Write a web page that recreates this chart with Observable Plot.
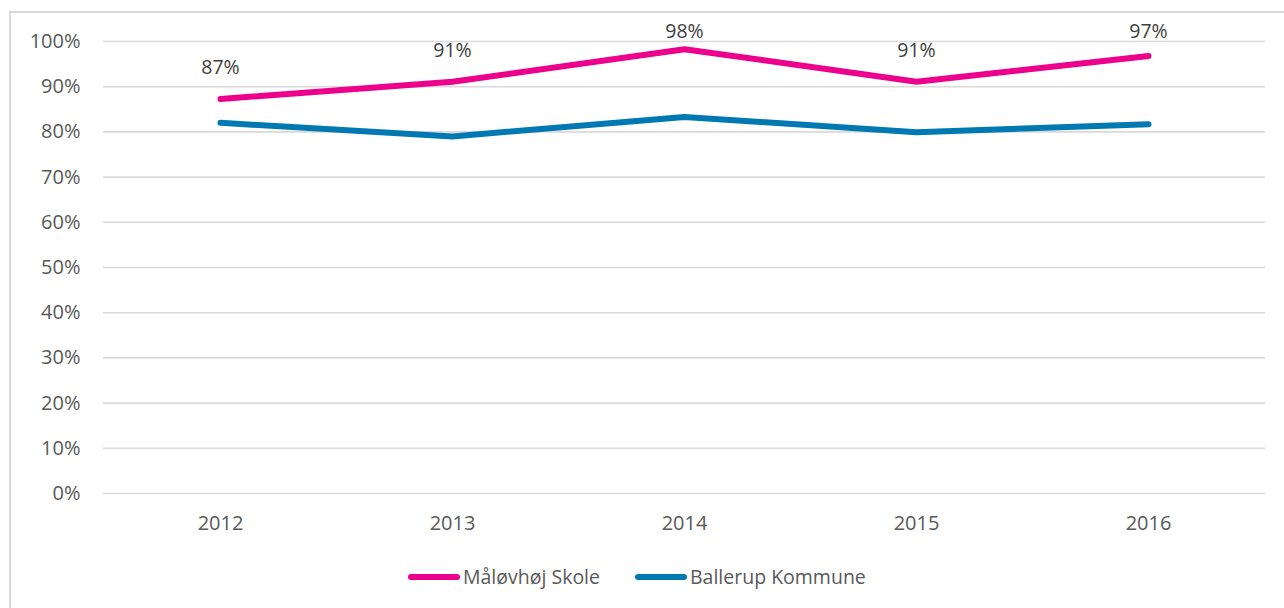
<!DOCTYPE html>
<html>
<head>
<meta charset="utf-8">
<script src="https://cdn.jsdelivr.net/npm/d3@7"></script>
<script src="https://cdn.jsdelivr.net/npm/@observablehq/plot@0.6"></script>
<style>
  html, body { margin: 0; padding: 0; background: #fff; overflow: hidden; }
  body { width: 1284px; height: 608px; position: relative; font-family: "Open Sans", sans-serif; }
  #frame { position: absolute; left: 9px; top: 11px; width: 1400px; height: 700px;
           border-left: 2px solid #D9D9D9; border-top: 2px solid #D9D9D9; box-sizing: border-box; }
  #chart { position: absolute; left: 0; top: 0; }
  #legend { position: absolute; left: 408px; top: 563px; display: flex; align-items: center;
            font-size: 19.5px; color: #595959; white-space: nowrap; }
  .item { display: flex; align-items: center; }
  .sw { width: 52px; height: 6px; border-radius: 3px; margin-right: 3px; }
  .gap { width: 35px; }
</style>
</head>
<body>
<div id="frame"></div>
<div id="chart"></div>
<div id="legend"></div>
<script>
// ---- data ----
const years = ["2012", "2013", "2014", "2015", "2016"];
const skoleValues = [87.3, 91.1, 98.3, 91.1, 96.8];
const kommuneValues = [82.0, 79.0, 83.3, 79.9, 81.7];
const skoleLabels = ["87%", "91%", "98%", "91%", "97%"];
const seriesNames = ["Måløvhøj Skole", "Ballerup Kommune"];
const seriesColors = ["#EC008C", "#0079B3"];
const yTicks = [0, 10, 20, 30, 40, 50, 60, 70, 80, 90, 100];

// ---- build table ----
const rows = [];
years.forEach((yr, i) => rows.push({ year: yr, value: skoleValues[i], series: seriesNames[0] }));
years.forEach((yr, i) => rows.push({ year: yr, value: kommuneValues[i], series: seriesNames[1] }));

// labels sit ~31px above the point, but never above the top of the plot area (Excel-like clamp)
const pxPerUnit = 4.52, labelOffsetPx = 31, labelCeiling = 102.06;
const labelRows = years.map((yr, i) => ({
  year: yr,
  y: Math.min(skoleValues[i] + labelOffsetPx / pxPerUnit, labelCeiling),
  text: skoleLabels[i]
}));

const chart = Plot.plot({
  width: 1284,
  height: 538,
  marginTop: 41,
  marginBottom: 45,
  marginLeft: 103,
  marginRight: 19,
  style: { fontFamily: "'Open Sans', sans-serif", fontSize: "20px", background: "transparent", overflow: "visible" },
  x: { type: "point", domain: years, padding: 0.5, label: null },
  y: { domain: [0, 100], label: null },
  color: { domain: seriesNames, range: seriesColors },
  marks: [
    Plot.gridY(yTicks, { stroke: "#D9D9D9", strokeOpacity: 1, strokeWidth: 1.6 }),
    Plot.axisY(yTicks, { tickSize: 0, tickPadding: 23, tickFormat: d => d + "%", fill: "#595959", label: null }),
    Plot.axisX({ tickSize: 0, tickPadding: 22, fill: "#595959", label: null }),
    Plot.line(rows, { x: "year", y: "value", z: "series", stroke: "series", strokeWidth: 6,
                      strokeLinecap: "round", strokeLinejoin: "round" }),
    Plot.text(labelRows, { x: "year", y: "y", text: "text", fill: "#404040", fontSize: 19.5 })
  ]
});
document.getElementById("chart").appendChild(chart);

// ---- legend ----
const legend = document.getElementById("legend");
seriesNames.forEach((name, i) => {
  if (i > 0) { const g = document.createElement("div"); g.className = "gap"; legend.appendChild(g); }
  const item = document.createElement("div"); item.className = "item";
  const sw = document.createElement("div"); sw.className = "sw"; sw.style.background = seriesColors[i];
  const tx = document.createElement("span"); tx.textContent = name;
  item.appendChild(sw); item.appendChild(tx); legend.appendChild(item);
});
</script>
</body>
</html>
